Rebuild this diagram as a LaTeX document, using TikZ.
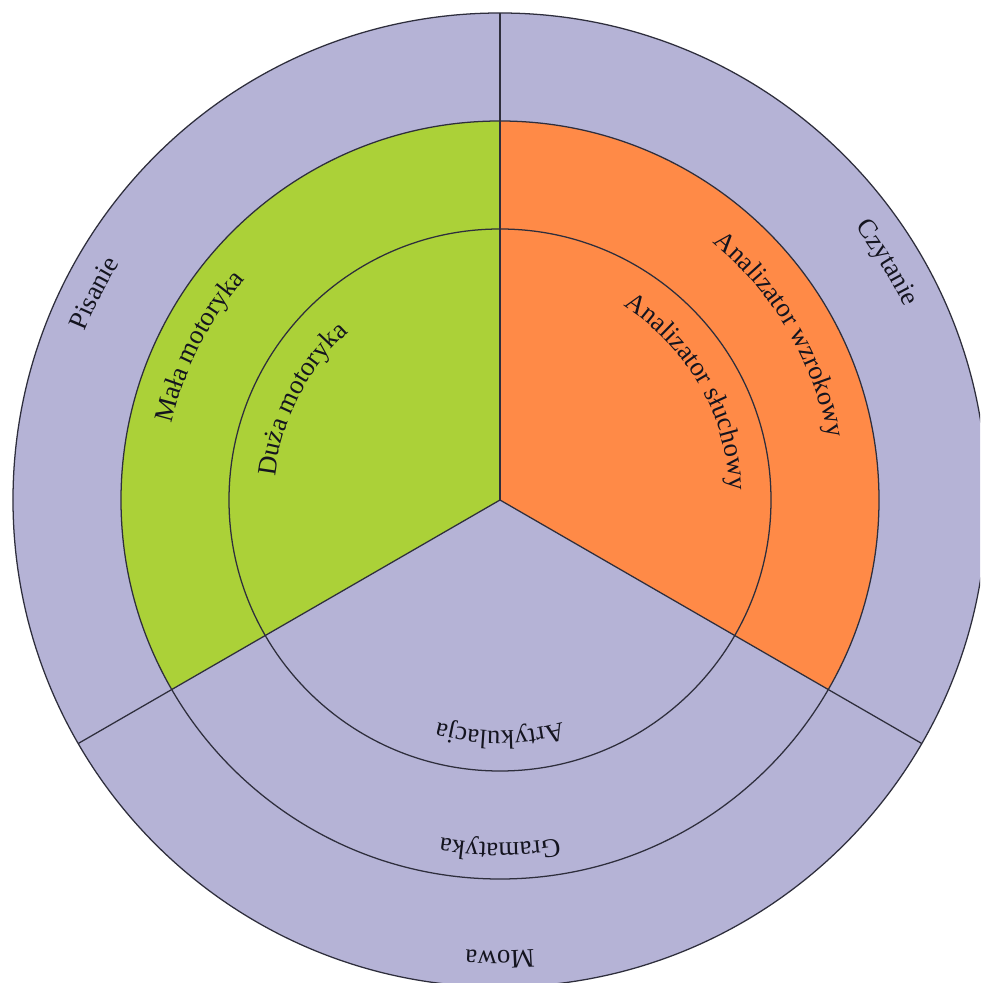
\documentclass[tikz,border=0pt]{standalone}
\usepackage{fontspec}
\setmainfont{Liberation Serif}
\usetikzlibrary{decorations.text}
\definecolor{lav}{HTML}{B5B3D6}
\definecolor{grn}{HTML}{ABD138}
\definecolor{org}{HTML}{FF8A47}
\definecolor{ink}{HTML}{14141F}
\definecolor{edge}{HTML}{2E2E3C}
\begin{document}
\begin{tikzpicture}[x=0.025cm,y=0.025cm,
  ring/.style={draw=edge,line width=0.9pt},
  arclabel/.style={decorate,decoration={text along path,text align=center,text color=ink,text={|\fontsize{19}{23}\selectfont|#1}}}]
\useasboundingbox (-500,-483) rectangle (480,500);
\fill[white] (-500,-483) rectangle (480,500);
\clip (-500,-483) rectangle (480,500);
\coordinate (O) at (0,0);
\coordinate (T) at (90:487);
\coordinate (L) at (210:487);
\coordinate (R) at (330:487);
% sectors
\fill[lav] (O) circle[radius=487];
\fill[grn] (O) -- (90:379) arc[start angle=90,end angle=210,radius=379] -- cycle;
\fill[org] (O) -- (90:379) arc[start angle=90,end angle=-30,radius=379] -- cycle;
% rings
\draw[ring] (O) circle[radius=487];
\draw[ring] (O) circle[radius=379];
\draw[ring] (O) circle[radius=271];
% spokes
\draw[ring] (O) -- (T);
\draw[ring] (O) -- (L);
\draw[ring] (O) -- (R);
% labels
\path[arclabel=Pisanie] (213:448) arc[start angle=213,end angle=93,radius=448];
\path[arclabel=Czytanie] (91.5:448) arc[start angle=91.5,end angle=-28.5,radius=448];
\path[arclabel=Mowa] (330:451) arc[start angle=330,end angle=210,radius=451];
\path[arclabel=Mała motoryka] (213:337) arc[start angle=213,end angle=93,radius=337];
\path[arclabel=Analizator wzrokowy] (90.5:334) arc[start angle=90.5,end angle=-29.5,radius=334];
\path[arclabel=Gramatyka] (330:343) arc[start angle=330,end angle=210,radius=343];
\path[arclabel=Duża motoryka] (213:226) arc[start angle=213,end angle=93,radius=226];
\path[arclabel=Analizator słuchowy] (90:230) arc[start angle=90,end angle=-30,radius=230];
\path[arclabel=Artykulacja] (330:231) arc[start angle=330,end angle=210,radius=231];
\end{tikzpicture}
\end{document}
